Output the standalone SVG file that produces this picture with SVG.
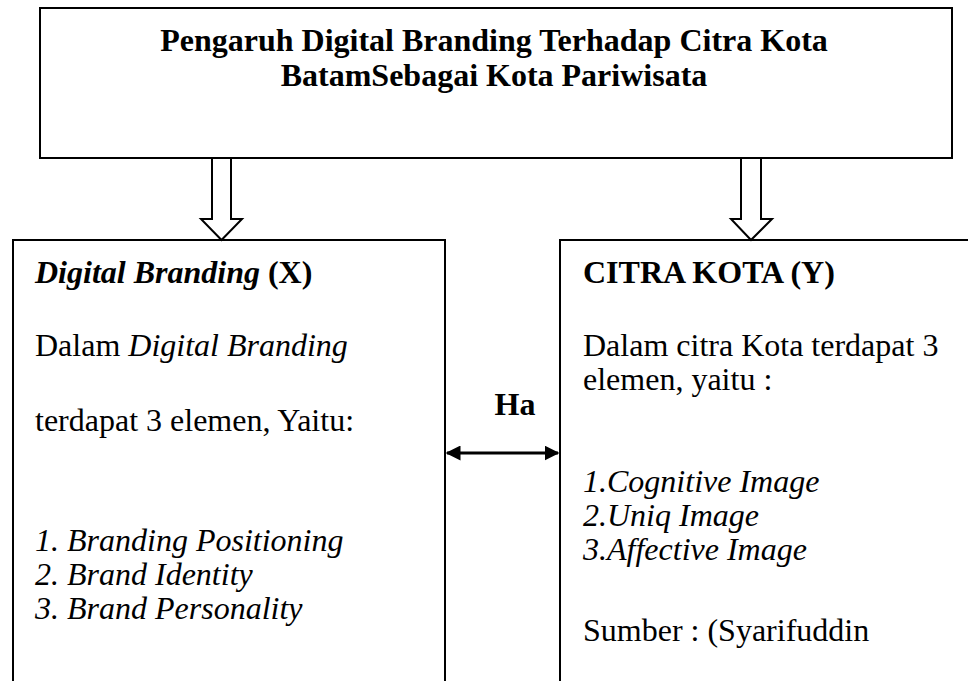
<svg xmlns="http://www.w3.org/2000/svg" width="968" height="681" viewBox="0 0 968 681">
<style>
.box{fill:#fff;stroke:#000;stroke-width:2}
.t{font-family:"Liberation Serif","Times New Roman",serif;font-size:32px;fill:#000}
.b{font-weight:bold}
.i{font-style:italic}
.blk{fill:#fff;stroke:#000;stroke-width:2;stroke-linejoin:miter}
</style>
<defs>
<marker id="ah" viewBox="0 0 10 10" refX="9" refY="5" markerWidth="5" markerHeight="5" orient="auto-start-reverse" markerUnits="strokeWidth">
<path d="M0,0 L10,5 L0,10 z" fill="#000"/>
</marker>
</defs>
<rect width="968" height="681" fill="#fff"/>
<g id="title">
<rect class="box" x="40" y="8" width="912" height="150"/>
<text class="t b" x="494" y="51" text-anchor="middle" font-size="31">Pengaruh Digital Branding Terhadap Citra Kota</text>
<text class="t b" x="494" y="86" text-anchor="middle" font-size="31">BatamSebagai Kota Pariwisata</text>
</g>
<g id="digital-branding">
<path class="box" d="M13,681 V240 H445 V681"/>
<text class="t" x="35" y="283"><tspan class="b i">Digital Branding</tspan><tspan class="b"> (X)</tspan></text>
<text class="t" x="35" y="356">Dalam <tspan class="i">Digital Branding</tspan></text>
<text class="t" x="35" y="431">terdapat 3 elemen, Yaitu:</text>
<text class="t i" x="35" y="551">1. Branding Positioning</text>
<text class="t i" x="35" y="585">2. Brand Identity</text>
<text class="t i" x="35" y="619">3. Brand Personality</text>
</g>
<g id="citra-kota">
<path class="box" d="M560,681 V240 H970"/>
<text class="t b" x="583" y="283">CITRA KOTA (Y)</text>
<text class="t" x="583" y="356">Dalam citra Kota terdapat 3</text>
<text class="t" x="583" y="390">elemen, yaitu :</text>
<text class="t i" x="583" y="492">1.Cognitive Image</text>
<text class="t i" x="583" y="526">2.Uniq Image</text>
<text class="t i" x="583" y="560">3.Affective Image</text>
<text class="t" x="583" y="641">Sumber : (Syarifuddin</text>
</g>
<g id="connectors">
<path class="blk" d="M212,158 V219 H201 L221.5,240 L242,219 H231 V158 Z"/>
<path class="blk" d="M741,158 V219 H731 L751,240 L772,219 H761 V158 Z"/>
<line x1="447" y1="453" x2="558" y2="453" stroke="#000" stroke-width="3" marker-start="url(#ah)" marker-end="url(#ah)"/>
<text class="t b" x="515" y="415" text-anchor="middle" font-size="29">Ha</text>
</g>
</svg>
